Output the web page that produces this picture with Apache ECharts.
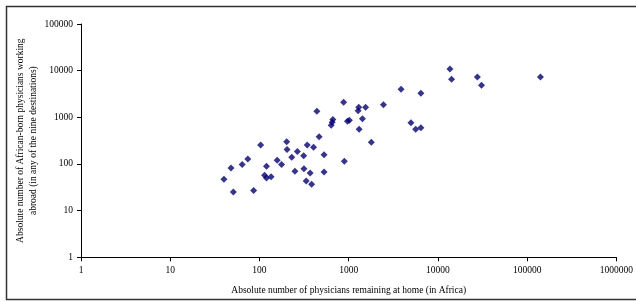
<!DOCTYPE html>
<html>
<head>
<meta charset="utf-8">
<script src="https://cdn.jsdelivr.net/npm/echarts@6/dist/echarts.min.js"></script>
<style>
  html, body { margin: 0; padding: 0; background: #fff; }
  #chart { width: 636px; height: 302px; }
</style>
</head>
<body>
<div id="chart"></div>
<script>
// physicians remaining at home (x) vs. working abroad (y), one point per country
const homeDocs = [
  40, 48, 51, 64, 74, 86, 103, 114, 120, 120,
  135, 158, 177, 202, 204, 230, 250, 266, 313, 315,
  334, 370, 384, 343, 404, 440, 466, 530, 530, 637,
  653, 665, 877, 893, 968, 1018, 1297, 1276, 1547, 1426,
  1309, 1794, 2453, 3864, 6440, 4988, 5637, 6440, 13640, 14230,
  27670, 30800, 141000
];
const abroadDocs = [
  47, 82, 25, 97, 128, 27, 255, 57, 89, 50,
  53, 120, 97, 300, 204, 139, 70, 185, 150, 79,
  43, 64, 37, 255, 228, 1346, 384, 158, 67, 678,
  782, 898, 2099, 114, 822, 863, 1640, 1387, 1640, 934,
  554, 292, 1855, 3988, 3273, 767, 554, 599, 10860, 6530,
  7310, 4856, 7310
];
const xTitle = 'Absolute number of physicians remaining at home (in Africa)';
const yTitle = 'Absolute number of African-born physicians working\nabroad (in any of the nine destinations)';

const points = homeDocs.map((x, i) => [x, abroadDocs[i]]);

const font = 'Liberation Serif';
const myChart = echarts.init(document.getElementById('chart'));

const axisCommon = {
  type: 'log',
  logBase: 10,
  nameLocation: 'middle',
  nameMoveOverlap: false,
  splitLine: { show: false },
  axisLine: { lineStyle: { color: '#000', width: 1 } },
  axisTick: { show: true, length: 4, lineStyle: { color: '#000' } },
  axisLabel: {
    color: '#000',
    fontFamily: font,
    fontSize: 9.5,
    formatter: v => String(Math.round(v))
  },
  nameTextStyle: { color: '#000', fontFamily: font, fontSize: 9.5 }
};

myChart.setOption({
  animation: false,
  backgroundColor: '#fff',
  grid: { left: 81, right: 14.7, top: 24, bottom: 44.7 },
  graphic: [{
    type: 'rect',
    shape: { x: 6.5, y: 6.5, width: 640, height: 293 },
    style: { fill: 'none', stroke: '#333', lineWidth: 1.5 },
    silent: true
  }],
  xAxis: Object.assign({}, axisCommon, {
    min: 1,
    max: 1000000,
    name: xTitle,
    nameGap: 28,
    axisLabel: Object.assign({}, axisCommon.axisLabel, { margin: 8 })
  }),
  yAxis: Object.assign({}, axisCommon, {
    min: 1,
    max: 100000,
    name: yTitle,
    nameGap: 41,
    nameTextStyle: Object.assign({}, axisCommon.nameTextStyle, { lineHeight: 13 }),
    axisLabel: Object.assign({}, axisCommon.axisLabel, { margin: 8 })
  }),
  series: [{
    type: 'scatter',
    symbol: 'diamond',
    symbolSize: 7,
    itemStyle: { color: '#000080' },
    data: points
  }]
});
</script>
</body>
</html>
